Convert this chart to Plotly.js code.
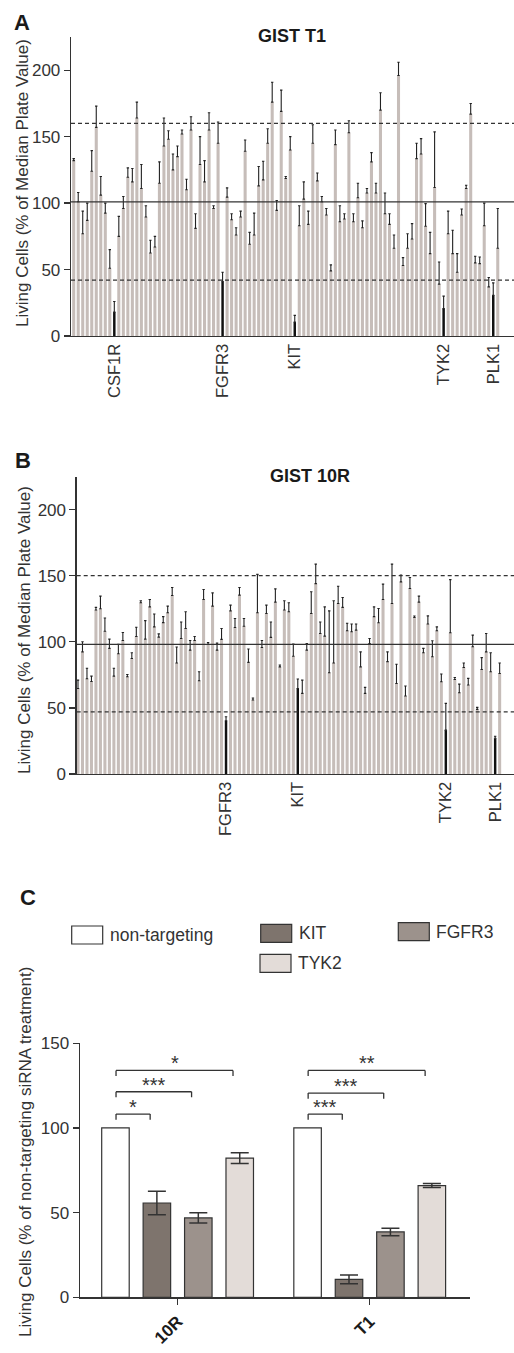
<!DOCTYPE html>
<html>
<head>
<meta charset="utf-8">
<script src="https://cdn.plot.ly/plotly-3.0.1.min.js"></script>
<style>html,body{margin:0;padding:0;background:#fff;}#chart{width:514px;height:1353px;}</style>
</head>
<body>
<div id="chart"></div>
<script>
// ---------- DATA ----------
// Panel A: GIST T1 siRNA screen (bar value and upper end of error bar)
const A_vals = [132,101,77,87,124,157,106,92.5,51,18, 75,96,119.5,116,164,111,89.5,62.5,67,115,
  143,148,125,135,152,110,155,81,129,116, 155,96,145,41,104.5,87.5,76,89.5,139,69,
  76,113,117.5,145,176,94.5,169,118.5,140,10.5, 83,103,84,145,116.7,101,91,49,144,86,
  88,153,86,104,81.5,107.6,131,107.6,170,92, 84,66,196,53,66,73,133.5,137,82.6,62,
  111.7,39,20.6,77,62,48,91,111,167,55, 54.5,83,37,30.6,66];
const A_upper = [133.5,108,94,100,139.5,173,120,100,65,26, 90,105,126.5,126,176,129,98,72,75,131,
  164,154.5,137,143,155,118,165,92,150,132, 168,98,161,48,111.5,92,81.5,94,147.5,78,
  92.5,127.5,131.5,156,191,102,185,120,150,15.5, 98,116,94,159,122.7,105,96,53.5,155,98,
  92,162,92,115,86.6,111,138,115,183,107.6, 92,76,206,59,77,84.6,145,148.5,99.6,78,
  153.6,55.7,30,94,79.6,62,95.6,113.4,175,60, 59.5,100,44,40,96];
const A_hitIdx = [10,34,50,83,94];
const A_hitNames = ["CSF1R","FGFR3","KIT","TYK2","PLK1"];
const A_refSolid = 101, A_refHigh = 160, A_refLow = 42;

// Panel B: GIST 10R siRNA screen
const B_vals = [64.7,92.4,72,70,124,125,108,95,74,91, 101,73.5,87.4,104,129.5,102,126.4,111.3,103.5,114.5,
  122,135,84,102.5,110,93.7,101,70.5,132,98, 127,93.7,101.8,40.3,123.4,110.8,135.3,111.8,84.4,56,
  122,95.7,121.4,103.3,130,81,124,122.7,89,64.7, 61,93.7,121.4,144,106.3,104.3,76.6,84,129,126,
  108.3,107.6,108.8,81,61,98.7,119,114.4,132,85, 129,68.5,145.3,59,140.3,118.4,130,91.7,113.4,88.7,
  108.3,69.8,33.2,106.8,71.5,61.5,80.6,67.3,96.2,48.9, 79,92.4,77.3,27,76];
const B_upper = [71,100,80,74,126,134.5,118,102,80,98, 107,75.3,91.7,111,131,116,132,121,106,119,
  127,141,96,115,122.7,101,104,77.3,139.5,99.5, 137,99,110,43.3,127.7,117.6,141,117.6,94.5,57.5,
  151,101,127.7,115,140,82.4,131,129.5,98.2,71.8, 71,98.7,137.8,158.7,115,126.4,123.4,131,142,133.5,
  114,113.4,113.4,92.4,65.5,102.5,126.4,125.2,143.6,92.4, 158.7,83,150.4,66.5,148.6,119.5,134.5,95,119.6,100.8,
  111.3,75.6,53.4,147,73,68,84,72.3,105,50.4, 88,106.3,91.7,28.5,84];
const B_hitIdx = [34,50,83,94];
const B_hitNames = ["FGFR3","KIT","TYK2","PLK1"];
const B_refSolid = 98, B_refHigh = 150, B_refLow = 47;

// Panel C: validation
const C_cells = ["10R","T1"];
const C_series = ["non-targeting","KIT","FGFR3","TYK2"];
const C_colors = ["#ffffff","#7e746d","#9c928c","#e3dcd8"];
const C_values = { "non-targeting":[100,100], "KIT":[55.7,10.6], "FGFR3":[46.9,38.6], "TYK2":[82.2,66] };
const C_errors = { "non-targeting":[0,0], "KIT":[7,2.6], "FGFR3":[3,2.2], "TYK2":[3.2,1.2] };
// significance: [cell index, compared series index, stars, bracket level]
const C_sig = [[0,1,"*",108.2],[0,2,"***",121.4],[0,3,"*",134],
               [1,1,"***",108.2],[1,2,"***",120.6],[1,3,"**",134]];

// ---------- HELPERS ----------
const W = 514, H = 1353;
const px = x => x / W;
const py = y => 1 - y / H;
const FONT = "Liberation Sans, Arial, Helvetica, sans-serif";
const INK = "#333333";
const GRAY = "#c6bdb9";

function screenTrace(vals, upper, hits, xa, ya) {
  const x = vals.map((_, i) => i + 1);
  const col = x.map(i => hits.includes(i) ? "#111111" : GRAY);
  const wid = x.map(i => hits.includes(i) ? 0.55 : 0.68);
  return {
    type: "bar", x: x, y: vals, xaxis: xa, yaxis: ya, width: wid,
    marker: { color: col, line: { width: 0 } },
    error_y: { type: "data", symmetric: false, array: vals.map((v, i) => upper[i] - v),
      arrayminus: vals.map(() => 0), color: "#222", thickness: 1.1, width: 1.2 },
    showlegend: false, hoverinfo: "skip"
  };
}

const traces = [
  screenTrace(A_vals, A_upper, A_hitIdx, "x", "y"),
  screenTrace(B_vals, B_upper, B_hitIdx, "x2", "y2")
];

C_series.forEach((s, k) => {
  traces.push({
    type: "bar", name: s, x: C_cells, y: C_values[s], xaxis: "x3", yaxis: "y3",
    marker: { color: C_colors[k], line: { color: INK, width: 1.2 } },
    error_y: { type: "data", array: C_errors[s], visible: k > 0, color: INK, thickness: 1.5, width: 9 },
    showlegend: false, hoverinfo: "skip"
  });
});

const shapes = [];
function refLines(ya, x0, solid, hi, lo) {
  shapes.push({ type: "line", xref: "paper", yref: ya, x0: x0, x1: 1, y0: solid, y1: solid, line: { color: INK, width: 1.3 } });
  [hi, lo].forEach(v => shapes.push({ type: "line", xref: "paper", yref: ya, x0: x0, x1: 1, y0: v, y1: v,
    line: { color: INK, width: 1.3, dash: "4px,3px" } }));
}
refLines("y", px(71), A_refSolid, A_refHigh, A_refLow);
refLines("y2", px(76.7), B_refSolid, B_refHigh, B_refLow);

// bar geometry for panel C (grouped)
const C_bargap = 0.1375, C_groupgap = 0.336;
const slot = (1 - C_bargap) / C_series.length;
const barCenter = (cell, k) => cell + (k - (C_series.length - 1) / 2) * slot;

const annotations = [];
C_sig.forEach(([cell, k, stars, lvl]) => {
  const x0 = barCenter(cell, 0) + 0.003;
  const x1 = barCenter(cell, k) - 0.035;
  const drop = 3.3;
  const ln = { color: INK, width: 1.3 };
  shapes.push({ type: "line", xref: "x3", yref: "y3", x0: x0, x1: x1, y0: lvl, y1: lvl, line: ln });
  shapes.push({ type: "line", xref: "x3", yref: "y3", x0: x0, x1: x0, y0: lvl - drop, y1: lvl, line: ln });
  shapes.push({ type: "line", xref: "x3", yref: "y3", x0: x1, x1: x1, y0: lvl - drop, y1: lvl, line: ln });
  annotations.push({ xref: "x3", yref: "y3", x: (x0 + x1) / 2, y: lvl - 3.5, yanchor: "bottom", xanchor: "center",
    text: stars, showarrow: false, font: { family: FONT, size: 20, color: INK } });
});

// legend for panel C (drawn manually to match layout)
const legendPos = [[71.7, 926], [260.7, 924.3], [398.3, 922.7], [260, 954.3]];
C_series.forEach((s, k) => {
  const [lx, ly] = legendPos[k];
  shapes.push({ type: "rect", xref: "paper", yref: "paper", x0: px(lx), x1: px(lx + 31), y0: py(ly + 18), y1: py(ly),
    fillcolor: C_colors[k], line: { color: INK, width: 1.2 } });
  annotations.push({ xref: "paper", yref: "paper", x: px(lx + 36), y: py(ly + 9), xanchor: "left", yanchor: "middle",
    text: s, showarrow: false, font: { family: FONT, size: 17.5, color: INK } });
});

// titles, panel letters, axis titles
const txt = (x, y, t, size, extra) => annotations.push(Object.assign({ xref: "paper", yref: "paper", x: px(x), y: py(y),
  xanchor: "center", yanchor: "middle", text: t, showarrow: false, font: { family: FONT, size: size, color: "#1a1a1a" } }, extra || {}));
txt(22, 23, "<b>A</b>", 22);
txt(22.5, 461, "<b>B</b>", 22);
txt(28, 897, "<b>C</b>", 22);
txt(291.7, 36, "<b>GIST T1</b>", 18);
txt(310, 476, "<b>GIST 10R</b>", 18);
const yt = { textangle: -90, font: { family: FONT, size: 17, color: INK } };
txt(22, 183, "Living Cells (% of Median Plate Value)", 17, yt);
txt(25, 630, "Living Cells (% of Median Plate Value)", 17, yt);
txt(25, 1152, "Living Cells (% of non-targeting siRNA treatment)", 17, yt);

const yBase = {
  range: [0, 225], tickvals: [0, 50, 100, 150, 200], ticks: "outside", ticklen: 6, tickwidth: 1.3, tickcolor: INK,
  showline: true, linecolor: INK, linewidth: 1.3, showgrid: false, zeroline: false,
  tickfont: { family: FONT, size: 17, color: INK }, fixedrange: true
};
const xBase = {
  showline: true, linecolor: INK, linewidth: 1.3, showgrid: false, zeroline: false, ticks: "",
  tickangle: -90, tickfont: { family: FONT, size: 16.5, color: INK }, tickmode: "array", fixedrange: true
};

const layout = {
  width: W, height: H, margin: { l: 0, r: 0, t: 0, b: 0 }, paper_bgcolor: "#fff", plot_bgcolor: "rgba(0,0,0,0)",
  showlegend: false, barmode: "group", bargap: C_bargap, bargroupgap: C_groupgap,
  xaxis: Object.assign({}, xBase, { domain: [px(71), 1], range: [0.4, 98.6], anchor: "y",
    tickvals: A_hitIdx, ticktext: A_hitNames }),
  yaxis: Object.assign({}, yBase, { domain: [py(336), py(37)], anchor: "x" }),
  xaxis2: Object.assign({}, xBase, { domain: [px(76.7), 1], range: [0.71, 98.2], anchor: "y2",
    tickvals: B_hitIdx, ticktext: B_hitNames }),
  yaxis2: Object.assign({}, yBase, { domain: [py(774), py(476.5)], anchor: "x2" }),
  xaxis3: { domain: [px(80), px(470)], range: [-0.508, 1.522], anchor: "y3", type: "category",
    showline: true, linecolor: INK, linewidth: 1.5, ticks: "outside", ticklen: 6, tickwidth: 1.5, tickcolor: INK,
    tickangle: -45, tickfont: { family: FONT, size: 17, color: "#1a1a1a", weight: "bold" }, showgrid: false, zeroline: false, fixedrange: true },
  yaxis3: Object.assign({}, yBase, { domain: [py(1297.3), py(1043.3)], range: [0, 150], tickvals: [0, 50, 100, 150], anchor: "x3", linewidth: 1.5 }),
  shapes: shapes, annotations: annotations
};

Plotly.newPlot("chart", traces, layout, { staticPlot: true, displayModeBar: false });
</script>
</body>
</html>
